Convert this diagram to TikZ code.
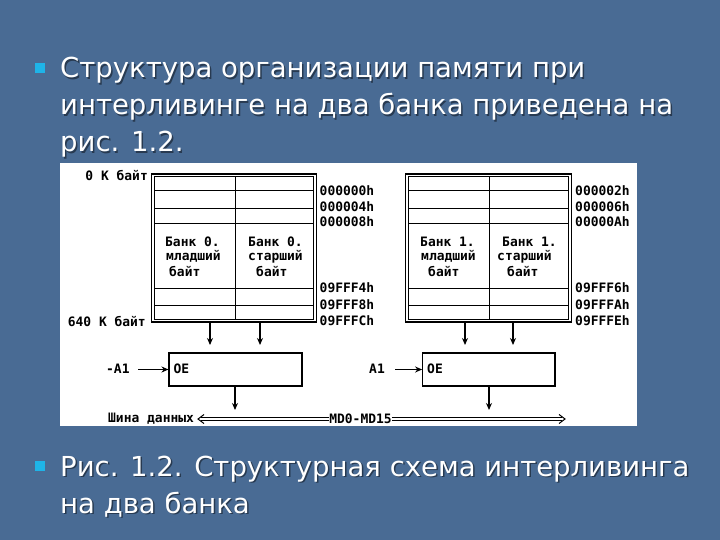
\documentclass[tikz,border=0pt]{standalone}
\usepackage{fontspec}
\setmainfont{DejaVu Sans}
\newfontfamily\dmono{DejaVu Sans Mono}
\usetikzlibrary{arrows.meta}
\definecolor{slidebg}{RGB}{73,107,148}
\definecolor{bulletc}{RGB}{30,180,232}
\tikzset{
  slidetext/.style={anchor=base west, text=white, inner sep=0, font=\fontsize{27.6}{34}\selectfont},
  slideshadow/.style={anchor=base west, text=black, opacity=0.45, inner sep=0, font=\fontsize{27.6}{34}\selectfont},
  bulletsq/.style={fill=bulletc, draw=none, minimum size=10bp, inner sep=0},
  dtext/.style={inner sep=0, font=\dmono\bfseries\fontsize{13}{14}\selectfont, text=black},
  memblock/.style={draw=black, line width=1.3bp, inner sep=0},
  oebox/.style={draw=black, line width=1.1bp, fill=white, inner sep=0},
  arr/.style={line width=1.2bp, -{Stealth[length=7bp,width=6bp]}},
  rowline/.style={line width=1bp},
  busline/.style={line width=1bp},
}
\begin{document}
\begin{tikzpicture}[x=1bp,y=-1bp]
\useasboundingbox (0,0) rectangle (720,540);
\fill[slidebg] (0,0) rectangle (720,540);

% bullets
\node[bulletsq] (bul1) at (40,68) {};
\node[bulletsq] (bul2) at (40,466) {};

% slide text with shadow
\foreach \t/\yy [count=\i] in {{Структура организации памяти при}/78,{интерливинге на два банка приведена на}/115,{рис. 1.2.}/152,{Рис. 1.2. Структурная схема интерливинга}/476,{на два банка}/513}{
  \node[slideshadow] at (61.5,\yy+1.5) {\t};
  \node[slidetext] (line\i) at (60,\yy) {\t};
}

% white inset
\fill[white] (60,163) rectangle (637,426);

% memory blocks (outer frame + inner frame)
\node[memblock, minimum width=165bp, minimum height=148bp] (b0) at (234,248) {};
\node[memblock, minimum width=166bp, minimum height=148bp] (b1) at (488.5,248) {};
\draw[line width=0.9bp] ([shift={(3.5,3)}]b0.north west) rectangle ([shift={(-3.5,-3)}]b0.south east);
\draw[line width=0.9bp] ([shift={(3.5,3)}]b1.north west) rectangle ([shift={(-3.5,-3)}]b1.south east);

% rows and columns
\foreach \yy in {191,208.5,224,288,305}{
  \draw[rowline] (155,\yy) -- (313,\yy);
  \draw[rowline] (409,\yy) -- (568,\yy);
}
\draw[rowline] (235,177) -- (235,319);
\draw[rowline] (489,177) -- (489,319);

% block labels
\node[dtext, anchor=west] (l0a) at (165,241.5) {Банк 0.};
\node[dtext, anchor=west] (l0b) at (166,256.5) {младший};
\node[dtext, anchor=west] (l0c) at (169,271) {байт};
\node[dtext, anchor=west] (l0d) at (248,241.5) {Банк 0.};
\node[dtext, anchor=west] (l0e) at (248,256.5) {старший};
\node[dtext, anchor=west] (l0f) at (256,271) {байт};

\node[dtext, anchor=west] (l1a) at (420,241.5) {Банк 1.};
\node[dtext, anchor=west] (l1b) at (421,256.5) {младший};
\node[dtext, anchor=west] (l1c) at (428,271) {байт};
\node[dtext, anchor=west] (l1d) at (502,241.5) {Банк 1.};
\node[dtext, anchor=west] (l1e) at (497,256.5) {старший};
\node[dtext, anchor=west] (l1f) at (507,271) {байт};

% address labels
\node[dtext, anchor=east] (k0) at (148,175) {0 K байт};
\node[dtext, anchor=east] (k640) at (146,322) {640 K байт};
\foreach \nm/\t/\yy in {a1/000000h/191,a2/000004h/207,a3/000008h/222,a4/09FFF4h/288,a5/09FFF8h/305,a6/09FFFCh/321}{
  \node[dtext, anchor=west] (\nm) at (319.5,\yy) {\t};
}
\foreach \nm/\t/\yy in {c1/000002h/191,c2/000006h/207,c3/00000Ah/222,c4/09FFF6h/288,c5/09FFFAh/305,c6/09FFFEh/321}{
  \node[dtext, anchor=west] (\nm) at (575,\yy) {\t};
}

% OE boxes
\node[oebox, minimum width=133bp, minimum height=33bp] (oe0) at (235.5,369.5) {};
\node[oebox, minimum width=132.3bp, minimum height=33bp] (oe1) at (488.8,369.5) {};
\node[dtext, anchor=west] (oe0t) at (173.5,369) {OE};
\node[dtext, anchor=west] (oe1t) at (427,369) {OE};

% down arrows from blocks
\coordinate (d0a) at (210,345);
\coordinate (d0b) at (260,345);
\coordinate (d1a) at (465,345);
\coordinate (d1b) at (513,345);
\draw[arr] (b0.south -| d0a) -- (d0a);
\draw[arr] (b0.south -| d0b) -- (d0b);
\draw[arr] (b1.south -| d1a) -- (d1a);
\draw[arr] (b1.south -| d1b) -- (d1b);

% A1 inputs
\node[dtext, anchor=west] (na1) at (106,369) {-A1};
\node[dtext, anchor=west] (pa1) at (369,369) {A1};
\coordinate (na1s) at (138,369.5);
\coordinate (pa1s) at (395,369.5);
\draw[arr] (na1s) -- (oe0.west);
\draw[arr] (pa1s) -- (oe1.west);

% output arrows
\coordinate (o0) at (235,410);
\coordinate (o1) at (489,410);
\draw[arr] (oe0.south -| o0) -- (o0);
\draw[arr] (oe1.south -| o1) -- (o1);

% bus
\node[dtext, anchor=west] (bus) at (108,419) {Шина данных};
\node[dtext] (md) at (360.5,419) {MD0-MD15};
\coordinate (busL) at (198,419);
\coordinate (busR) at (565,419);
\draw[busline] (201,417.3) -- (md.west |- 0,417.3);
\draw[busline] (201,420.7) -- (md.west |- 0,420.7);
\draw[busline] (204,414.5) -- (busL) -- (204,423.5);
\draw[busline] (md.east |- 0,417.3) -- (562,417.3);
\draw[busline] (md.east |- 0,420.7) -- (562,420.7);
\draw[busline] (559,414.5) -- (busR) -- (559,423.5);
\end{tikzpicture}
\end{document}
